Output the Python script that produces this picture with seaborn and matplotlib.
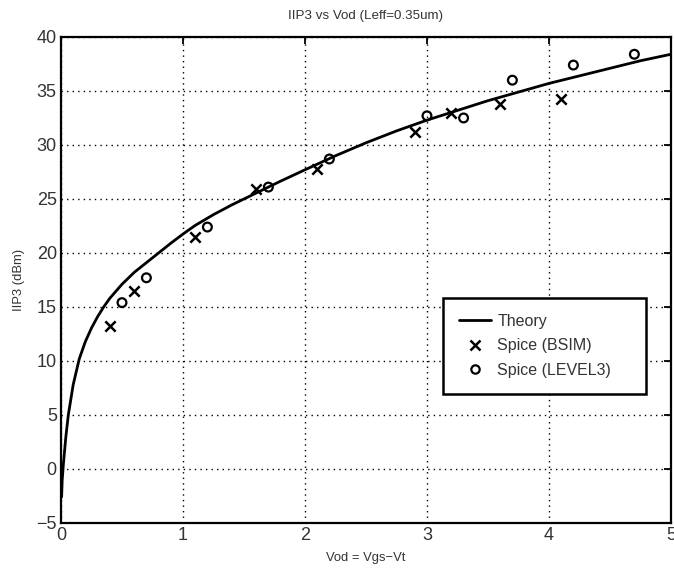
import numpy as np
import pandas as pd
import matplotlib
matplotlib.use('Agg')
import matplotlib.pyplot as plt
from matplotlib.lines import Line2D
import seaborn as sns

# Theory curve
THEORY_VOD = [0.005, 0.01, 0.02, 0.04, 0.06, 0.1, 0.15, 0.2, 0.25, 0.3, 0.35, 0.4,
              0.5, 0.6, 0.7, 0.8, 0.9, 1.0, 1.1, 1.25, 1.4, 1.5, 1.6, 1.8, 2.0,
              2.25, 2.5, 2.75, 3.0, 3.25, 3.5, 3.75, 4.0, 4.25, 4.5, 4.75, 5.0]
THEORY_IIP3 = [-2.6, -1.0, 0.5, 3.0, 5.0, 7.8, 10.2, 11.8, 13.05, 14.1, 15.0, 15.8,
               17.1, 18.2, 19.1, 20.0, 20.9, 21.75, 22.55, 23.55, 24.45, 25.0, 25.55, 26.65, 27.7,
               29.0, 30.2, 31.3, 32.3, 33.2, 34.1, 34.9, 35.7, 36.4, 37.1, 37.8, 38.4]

# Spice (BSIM) points
BSIM_VOD = [0.4, 0.6, 1.1, 1.6, 2.1, 2.9, 3.2, 3.6, 4.1]
BSIM_IIP3 = [13.2, 16.5, 21.5, 25.9, 27.8, 31.2, 33.0, 33.8, 34.3]

# Spice (LEVEL3) points
LEVEL3_VOD = [0.5, 0.7, 1.2, 1.7, 2.2, 3.0, 3.3, 3.7, 4.2, 4.7]
LEVEL3_IIP3 = [15.4, 17.7, 22.4, 26.1, 28.7, 32.7, 32.5, 36.0, 37.4, 38.4]

sns.set_theme(style='white')
plt.rcParams.update({
    'font.family': ['Liberation Sans', 'DejaVu Sans'],
    'axes.edgecolor': 'black', 'axes.linewidth': 1.6,
    'xtick.direction': 'in', 'ytick.direction': 'in',
    'xtick.top': True, 'ytick.right': True,
    'xtick.major.size': 5, 'ytick.major.size': 5,
    'xtick.major.width': 1.3, 'ytick.major.width': 1.3,
    'xtick.color': 'black', 'ytick.color': 'black',
    'xtick.labelsize': 13, 'ytick.labelsize': 13,
    'xtick.labelcolor': '#333333', 'ytick.labelcolor': '#333333',
})

fig = plt.figure(figsize=(6.74, 5.69), dpi=100)
ax = fig.add_axes([0.0905, 0.081, 0.905, 0.854])

theory = pd.DataFrame({'Vod': THEORY_VOD, 'IIP3': THEORY_IIP3})
bsim = pd.DataFrame({'Vod': BSIM_VOD, 'IIP3': BSIM_IIP3})
lev3 = pd.DataFrame({'Vod': LEVEL3_VOD, 'IIP3': LEVEL3_IIP3})

sns.lineplot(data=theory, x='Vod', y='IIP3', color='black', linewidth=2.0,
             ax=ax, legend=False, zorder=3)
sns.scatterplot(data=bsim, x='Vod', y='IIP3', marker='x', color='black',
                s=55, linewidth=1.8, ax=ax, legend=False, zorder=4)
ax.scatter(lev3['Vod'], lev3['IIP3'], marker='o', facecolors='none',
           edgecolors='black', s=40, linewidths=1.6, zorder=4)

ax.set_xlim(0, 5)
ax.set_ylim(-5, 40)
ax.set_xticks(np.arange(0, 6, 1))
ax.set_yticks(np.arange(-5, 41, 5))
ax.grid(True, color='black', linestyle=(0, (1, 3)), linewidth=1.0)
ax.tick_params(pad=3)

ax.set_title('IIP3 vs Vod (Leff=0.35um)', fontsize=9.6, color='#333333', pad=13)
ax.set_xlabel('Vod = Vgs\u2212Vt', fontsize=9.4, color='#333333', labelpad=6)
ax.set_ylabel('IIP3 (dBm)', fontsize=9.4, color='#333333', labelpad=8)

handles = [
    Line2D([], [], color='black', linewidth=2.0),
    Line2D([], [], color='black', marker='x', linestyle='', markersize=7, markeredgewidth=1.8),
    Line2D([], [], color='black', marker='o', linestyle='', markersize=6,
           markerfacecolor='none', markeredgewidth=1.6),
]
labels = ['Theory', 'Spice (BSIM)', 'Spice (LEVEL3)']
leg = ax.legend(handles, labels, loc='upper left',
                bbox_to_anchor=(0.626, 0.265, 0.333, 0.198), mode='expand',
                fontsize=11.5, frameon=True, fancybox=False, edgecolor='black',
                framealpha=1, borderpad=1.0, labelspacing=0.6, handlelength=2.0,
                handletextpad=0.4, borderaxespad=0)
leg.get_frame().set_linewidth(1.8)
for t in leg.get_texts():
    t.set_color('#333333')

fig.savefig('out.png', dpi=100)
